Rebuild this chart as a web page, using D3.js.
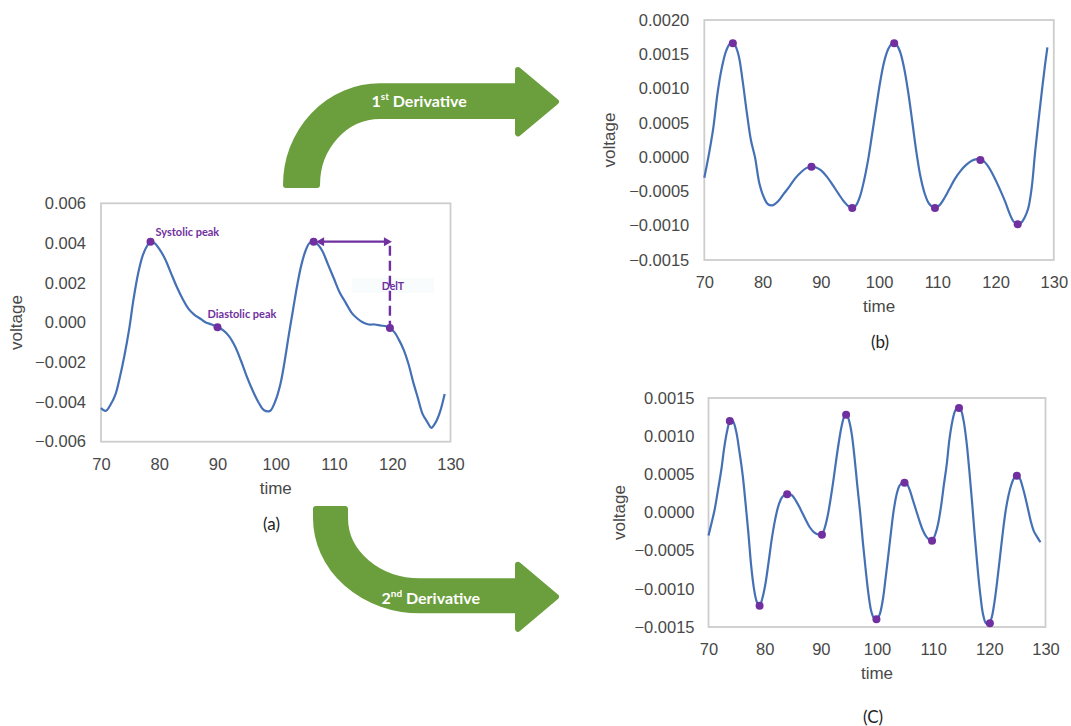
<!DOCTYPE html>
<html><head><meta charset="utf-8">
<script src="https://cdn.jsdelivr.net/npm/d3@7"></script>
<style>body{margin:0;background:#fff}svg{display:block}</style>
</head><body>
<svg id="chart" width="1071" height="726"></svg>
<script>
// ---------- data ----------
const timeTicks = [70, 80, 90, 100, 110, 120, 130];
const yTicksA = [-0.006, -0.004, -0.002, 0, 0.002, 0.004, 0.006];
const yTicksB = [-0.0015, -0.001, -0.0005, 0, 0.0005, 0.001, 0.0015, 0.002];
const yTicksC = [-0.0015, -0.001, -0.0005, 0, 0.0005, 0.001, 0.0015];

// (a) original signal
const timeA = [70.0,70.8,71.7,72.5,73.2,74.0,74.8,75.6,76.4,77.2,78.0,78.5,79.2,80.0,81.0,82.0,83.0,84.0,85.0,86.0,87.0,88.0,89.0,90.0,91.0,92.0,93.0,94.0,95.0,96.0,97.0,98.0,99.0,100.0,100.8,101.5,102.2,103.0,103.7,104.4,105.1,105.8,106.5,107.3,108.0,109.0,110.0,111.0,112.0,113.0,114.0,115.0,116.0,117.0,118.0,119.0,119.6,120.4,121.2,122.0,122.8,123.6,124.4,125.2,126.0,126.7,127.5,128.2,129.0];
const voltageA = [-0.0043,-0.00445,-0.0041,-0.0036,-0.0028,-0.0017,-0.0004,0.0012,0.0025,0.0034,0.0039,0.00407,0.0040,0.0037,0.0032,0.0025,0.0018,0.0012,0.0007,0.0004,0.0002,0.0000,-0.0001,-0.00024,-0.0004,-0.0007,-0.0012,-0.0019,-0.0027,-0.0034,-0.0040,-0.00442,-0.00445,-0.0039,-0.0031,-0.0020,-0.0007,0.0007,0.0019,0.0029,0.0036,0.0040,0.00407,0.0039,0.0036,0.0029,0.0022,0.0015,0.0010,0.0005,0.0002,0.0000,-0.0001,-0.0001,-0.00015,-0.0002,-0.00028,-0.0005,-0.0009,-0.0014,-0.0021,-0.0030,-0.0038,-0.0046,-0.0050,-0.0053,-0.0050,-0.0045,-0.0036];
const peakTimeA = [78.5, 90.0, 106.5, 119.6];
const peakVoltA = [0.00407, -0.00024, 0.00407, -0.00028];
const peakLabelsA = ["Systolic peak", "Diastolic peak"];
const delT = [106.5, 119.6];           // DelT span (time)
const delTLevels = [0.00407, -0.00028]; // arrow level, dashed line bottom

// (b) 1st derivative
const timeB = [70.0,70.7,71.5,72.3,73.0,73.8,74.5,75.2,75.9,76.6,77.3,78.0,78.7,79.5,80.3,81.0,81.8,82.7,83.6,84.6,85.6,86.6,87.5,88.3,89.2,90.0,91.0,92.0,93.0,94.0,94.8,95.4,96.0,96.7,97.4,98.1,98.8,99.5,100.2,100.9,101.6,102.3,102.9,103.6,104.3,105.0,105.7,106.4,107.1,107.8,108.6,109.6,110.4,111.2,112.1,113.0,114.0,115.0,116.0,116.8,117.4,118.0,118.7,119.4,120.1,120.9,121.7,122.4,123.1,123.8,124.4,125.0,125.6,126.2,126.8,127.4,128.0,128.5,128.9];
const voltageB = [-0.00030,0.00000,0.00040,0.00095,0.00130,0.00156,0.00166,0.00164,0.00148,0.00110,0.00065,0.00025,0.00000,-0.00040,-0.00060,-0.00069,-0.00070,-0.00064,-0.00054,-0.00043,-0.00031,-0.00022,-0.00016,-0.00014,-0.00015,-0.00019,-0.00028,-0.00040,-0.00053,-0.00065,-0.00072,-0.00074,-0.00071,-0.00058,-0.00035,-0.00005,0.00033,0.00072,0.00110,0.00140,0.00158,0.00166,0.00165,0.00154,0.00130,0.00095,0.00052,0.00008,-0.00028,-0.00052,-0.00068,-0.00074,-0.00070,-0.00060,-0.00046,-0.00032,-0.00020,-0.00011,-0.00005,-0.00003,-0.00003,-0.00006,-0.00013,-0.00023,-0.00035,-0.00050,-0.00066,-0.00082,-0.00094,-0.00098,-0.00096,-0.00088,-0.00075,-0.00045,0.00008,0.00055,0.00100,0.00135,0.00160];
const peakTimeB = [74.9, 88.4, 95.4, 102.6, 109.6, 117.4, 123.8];
const peakVoltB = [0.00166, -0.00014, -0.00074, 0.00166, -0.00074, -0.00004, -0.00098];

// (c) 2nd derivative
const timeC = [70.0,70.6,71.1,71.7,72.3,72.8,73.3,73.8,74.3,74.9,75.5,76.1,76.6,77.1,77.6,78.1,78.6,79.1,79.6,80.1,80.7,81.3,81.9,82.5,83.2,84.0,84.8,85.6,86.4,87.2,88.0,88.8,89.6,90.2,90.7,91.2,91.7,92.2,92.7,93.2,93.7,94.2,94.6,95.0,95.5,96.0,96.5,97.0,97.5,98.0,98.5,99.0,99.5,100.0,100.5,101.0,101.5,102.0,102.5,103.0,103.5,104.0,104.6,105.2,105.8,106.4,107.0,107.6,108.2,108.8,109.4,109.9,110.4,110.9,111.4,111.9,112.4,112.9,113.4,113.9,114.4,114.9,115.4,115.9,116.4,116.9,117.4,117.9,118.4,118.9,119.4,119.9,120.4,120.9,121.4,121.9,122.4,122.9,123.4,123.9,124.4,124.9,125.4,125.9,126.4,126.9,127.4,127.9,128.5,129.1];
const voltageC = [-0.00030,-0.00012,0.00004,0.00030,0.00057,0.00085,0.00106,0.00119,0.00120,0.00107,0.00080,0.00048,0.00012,-0.00027,-0.00070,-0.00100,-0.00117,-0.00122,-0.00112,-0.00095,-0.00065,-0.00033,-0.00008,0.00010,0.00021,0.00024,0.00023,0.00015,0.00004,-0.00008,-0.00019,-0.00026,-0.00029,-0.00029,-0.00020,-0.00005,0.00016,0.00040,0.00067,0.00092,0.00113,0.00126,0.00128,0.00121,0.00103,0.00072,0.00035,0.00000,-0.00040,-0.00076,-0.00108,-0.00130,-0.00139,-0.00140,-0.00133,-0.00116,-0.00088,-0.00057,-0.00025,0.00004,0.00024,0.00035,0.00040,0.00039,0.00030,0.00016,0.00002,-0.00012,-0.00024,-0.00032,-0.00036,-0.00036,-0.00028,-0.00014,0.00008,0.00036,0.00062,0.00096,0.00119,0.00133,0.00138,0.00135,0.00121,0.00095,0.00058,0.00016,-0.00030,-0.00072,-0.00108,-0.00134,-0.00145,-0.00146,-0.00138,-0.00118,-0.00090,-0.00058,-0.00026,0.00002,0.00022,0.00036,0.00045,0.00048,0.00045,0.00034,0.00020,0.00004,-0.00012,-0.00024,-0.00032,-0.00039];
const peakTimeC = [73.8, 79.1, 84.0, 90.2, 94.5, 99.9, 104.9, 109.8, 114.6, 120.1, 124.9];
const peakVoltC = [0.00120, -0.00122, 0.00024, -0.00029, 0.00128, -0.00140, 0.00039, -0.00037, 0.00137, -0.00145, 0.00048];

// ---------- styles ----------
const LINE = "#4470b5", DOT = "#7030a0", FRAME = "#cdcdcd", TXT = "#484848", GREEN = "#6b9e3c";
const AXFONT = "'Liberation Sans', Arial, sans-serif";
const LABFONT = "Lato, 'Open Sans', sans-serif";

const svg = d3.select("#chart");

function panel(o) {
  const x = d3.scaleLinear().domain([70, 130]).range([o.l, o.r]);
  const y = d3.scaleLinear().domain(o.yDomain).range([o.b, o.t]);
  const g = svg.append("g");
  g.append("rect").attr("x", o.l).attr("y", o.t).attr("width", o.r - o.l).attr("height", o.b - o.t)
    .attr("fill", "none").attr("stroke", FRAME).attr("stroke-width", 1.8);

  const ya = g.append("g").attr("transform", `translate(${o.l},0)`)
    .call(d3.axisLeft(y).tickValues(o.yTicks).tickFormat(d3.format(o.fmt)).tickSize(0).tickPadding(o.yPad));
  const xa = g.append("g").attr("transform", `translate(0,${o.b})`)
    .call(d3.axisBottom(x).tickValues(timeTicks).tickFormat(d3.format("d")).tickSize(0).tickPadding(16.5));
  [ya, xa].forEach(a => {
    a.select(".domain").remove();
    a.selectAll("text").attr("font-family", AXFONT).attr("font-size", 16.5).attr("fill", TXT);
  });

  g.append("text").attr("x", (o.l + o.r) / 2).attr("y", o.b + 52).attr("text-anchor", "middle")
    .attr("font-family", AXFONT).attr("font-size", 17).attr("fill", TXT).text("time");
  g.append("text").attr("transform", `translate(${o.ylx},${(o.t + o.b) / 2}) rotate(-90)`)
    .attr("text-anchor", "middle").attr("font-family", AXFONT).attr("font-size", 17).attr("fill", TXT).text("voltage");

  const pts = o.times.map((t, i) => [t, o.values[i]]);
  g.append("path").datum(pts).attr("fill", "none").attr("stroke", LINE).attr("stroke-width", 2.2)
    .attr("stroke-linejoin", "round")
    .attr("d", d3.line().x(d => x(d[0])).y(d => y(d[1])).curve(d3.curveCatmullRom.alpha(0.5)));

  if (o.extra) o.extra(g, x, y);

  g.selectAll("circle.pk").data(o.peakT.map((t, i) => [t, o.peakV[i]])).join("circle")
    .attr("class", "pk").attr("cx", d => x(d[0])).attr("cy", d => y(d[1])).attr("r", 4).attr("fill", DOT);

  g.append("text").attr("x", o.capX).attr("y", o.capY).attr("text-anchor", "middle")
    .attr("font-family", LABFONT).attr("font-size", 17).attr("fill", "#222").text(o.caption);
  return {x, y};
}

// (a)
panel({
  l: 101, r: 450.5, t: 203.3, b: 441.7, yDomain: [-0.006, 0.006], yTicks: yTicksA, fmt: ".3f", yPad: 15,
  ylx: 22, times: timeA, values: voltageA, peakT: peakTimeA, peakV: peakVoltA,
  caption: "(a)", capX: 271.5, capY: 530,
  extra: (g, x, y) => {
    // DelT faint background box
    g.append("rect").attr("x", 352).attr("y", 278).attr("width", 82).attr("height", 15).attr("fill", "#f8fcfd");
    // dashed vertical
    g.append("line").attr("x1", x(delT[1])).attr("x2", x(delT[1]))
      .attr("y1", y(delTLevels[0]) + 4).attr("y2", y(delTLevels[1]))
      .attr("stroke", DOT).attr("stroke-width", 2.4).attr("stroke-dasharray", "10,5");
    // horizontal double arrow
    const ay = y(delTLevels[0]);
    const x0 = x(delT[0]) + 2.5, x1 = x(delT[1]) + 2;
    g.append("line").attr("x1", x0 + 5).attr("x2", x1 - 5).attr("y1", ay).attr("y2", ay)
      .attr("stroke", DOT).attr("stroke-width", 2.4);
    g.append("path").attr("fill", DOT)
      .attr("d", `M${x0},${ay} L${x0 + 8},${ay - 4.5} L${x0 + 8},${ay + 4.5} Z M${x1},${ay} L${x1 - 8},${ay - 4.5} L${x1 - 8},${ay + 4.5} Z`);
    const lab = g.append("g").attr("font-family", LABFONT).attr("font-weight", 700).attr("fill", DOT);
    lab.append("text").attr("x", x(peakTimeA[0]) + 5).attr("y", y(peakVoltA[0]) - 6).attr("font-size", 11)
      .text(peakLabelsA[0]);
    lab.append("text").attr("x", x(peakTimeA[1]) - 10).attr("y", y(peakVoltA[1]) - 9).attr("font-size", 11)
      .text(peakLabelsA[1]);
    lab.append("text").attr("x", x(delT[1]) + 3).attr("y", 290).attr("text-anchor", "middle").attr("font-size", 10.5)
      .text("DelT");
  }
});

// (b)
panel({
  l: 704.3, r: 1053.8, t: 20, b: 260, yDomain: [-0.0015, 0.002], yTicks: yTicksB, fmt: ".4f", yPad: 15,
  ylx: 615, times: timeB, values: voltageB, peakT: peakTimeB, peakV: peakVoltB,
  caption: "(b)", capX: 880, capY: 348
});

// (c)
panel({
  l: 708.5, r: 1045.5, t: 398, b: 627, yDomain: [-0.0015, 0.0015], yTicks: yTicksC, fmt: ".4f", yPad: 14,
  ylx: 625, times: timeC, values: voltageC, peakT: peakTimeC, peakV: peakVoltC,
  caption: "(C)", capX: 873, capY: 723
});

// ---------- green curved arrows ----------
const arrows = svg.append("g");
arrows.append("path")
  .attr("d", "M286,185 A94,98.7 0 0 1 380,86.3 L518,86.3 L518,70 L556,101.7 L518,133.4 L518,116 L380,116 A63,69 0 0 0 317,185 Z")
  .attr("fill", GREEN).attr("stroke", GREEN).attr("stroke-width", 6).attr("stroke-linejoin", "round");
arrows.append("path")
  .attr("d", "M316,509 L345,509 L345,518 A75,63.3 0 0 0 420,581.3 L518,581.3 L518,564.7 L556,596.7 L518,628.7 L518,610.3 L420,610.3 A104,92.3 0 0 1 316,518 Z")
  .attr("fill", GREEN).attr("stroke", GREEN).attr("stroke-width", 6).attr("stroke-linejoin", "round");

function arrowText(xp, yp, num, sup) {
  const t = arrows.append("text").attr("x", xp).attr("y", yp).attr("font-family", LABFONT)
    .attr("font-weight", 700).attr("font-size", 16).attr("fill", "#fff");
  t.append("tspan").text(num);
  t.append("tspan").attr("font-size", 10).attr("dy", -7).text(sup);
  t.append("tspan").attr("dy", 7).text(" Derivative");
}
arrowText(371.5, 107, "1", "st");
arrowText(381.5, 604, "2", "nd");
</script>
</body></html>
